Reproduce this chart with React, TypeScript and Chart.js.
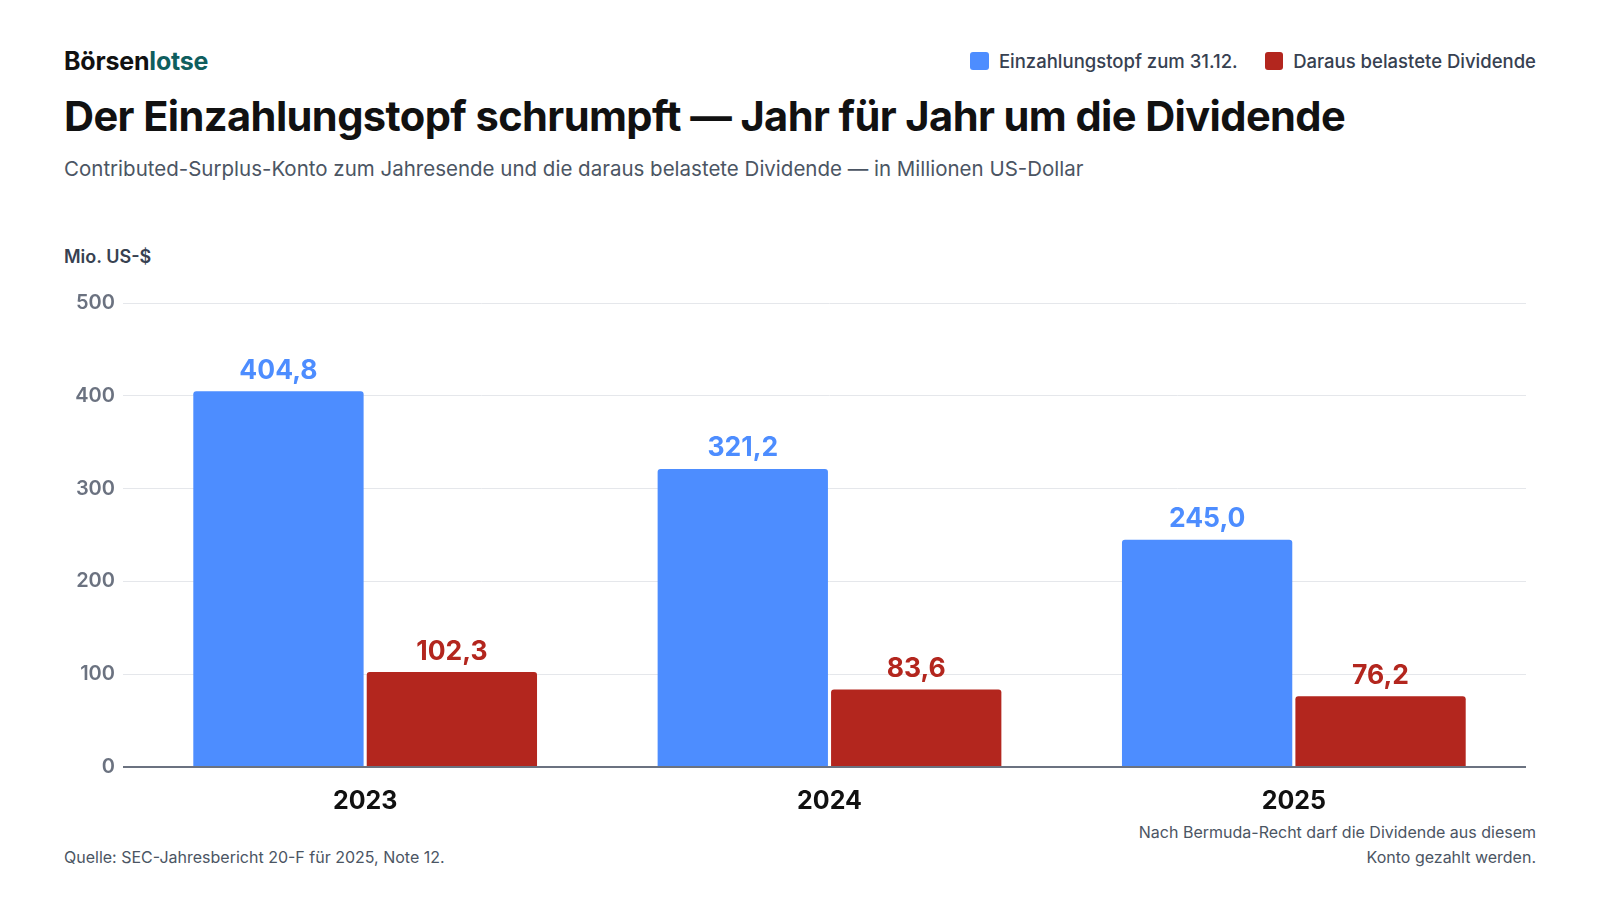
import { useEffect, useRef } from 'react'
import { Chart, registerables } from 'chart.js'

Chart.register(...registerables)

const years = ['2023', '2024', '2025']
const potValues = [404.8, 321.2, 245.0]
const dividendValues = [102.3, 83.6, 76.2]
const seriesNames = ['Einzahlungstopf zum 31.12.', 'Daraus belastete Dividende']

const BLUE = '#4d8dff'
const RED = '#b3261e'
const FONT = 'Inter, "Noto Sans", sans-serif'

const fmt = (v: number) => v.toFixed(1).replace('.', ',')

const valueLabels = {
  id: 'valueLabels',
  afterDatasetsDraw(chart: Chart) {
    const { ctx } = chart
    ctx.save()
    ctx.font = `700 26.5px ${FONT}`
    ctx.textAlign = 'center'
    ctx.textBaseline = 'alphabetic'
    chart.data.datasets.forEach((ds, i) => {
      const meta = chart.getDatasetMeta(i)
      meta.data.forEach((bar, j) => {
        ctx.fillStyle = ds.backgroundColor as string
        ctx.fillText(fmt(ds.data[j] as number), bar.x, bar.y - 12.5)
      })
    })
    ctx.restore()
  },
}

export default function App() {
  const chartRef = useRef<HTMLCanvasElement>(null)

  useEffect(() => {
    if (!chartRef.current) return
    const chart = new Chart(chartRef.current, {
      type: 'bar',
      data: {
        labels: years,
        datasets: [
          { label: seriesNames[0], data: potValues, backgroundColor: BLUE },
          { label: seriesNames[1], data: dividendValues, backgroundColor: RED },
        ],
      },
      options: {
        responsive: false,
        animation: false,
        layout: { padding: { top: 23, right: 10, left: 0, bottom: 0 } },
        datasets: {
          bar: {
            categoryPercentage: 0.747,
            barPercentage: 0.982,
            borderRadius: 3,
          },
        },
        plugins: {
          legend: { display: false },
          tooltip: { enabled: false },
        },
        scales: {
          x: {
            grid: { display: false },
            border: { display: false },
            ticks: {
              color: '#111111',
              font: { family: FONT, size: 25, weight: 700 },
              padding: 11,
            },
            afterFit: (s: any) => { s.height = 49 },
          },
          y: {
            min: 0,
            max: 500,
            ticks: {
              stepSize: 100,
              color: '#6b7280',
              font: { family: FONT, size: 20, weight: 600 },
              padding: 8,
            },
            grid: {
              drawTicks: true,
              tickLength: 10,
              color: (c: any) => (c.tick && c.tick.value === 0 ? '#6b7280' : '#e5e7eb'),
              lineWidth: (c: any) => (c.tick && c.tick.value === 0 ? 2 : 1),
            },
            border: { display: false },
            afterFit: (s: any) => { s.width = 69 },
          },
        },
      },
      plugins: [valueLabels],
    })
    return () => chart.destroy()
  }, [])

  const legendItem = (color: string, text: string) => (
    <div style={{ display: 'flex', alignItems: 'center', marginLeft: 27 }}>
      <span style={{ width: 18.5, height: 18.5, borderRadius: 3, background: color, display: 'inline-block', marginRight: 10 }} />
      <span style={{ fontSize: 18.5, color: '#374151', fontWeight: 500 }}>{text}</span>
    </div>
  )

  return (
    <div style={{ position: 'absolute', left: 0, top: 0, width: 1600, height: 900, background: '#ffffff', fontFamily: FONT, overflow: 'hidden' }}>
      <div style={{ position: 'absolute', left: 64, top: 46, fontSize: 25, fontWeight: 700, letterSpacing: -0.2, color: '#111111' }}>
        Börsen<span style={{ color: '#0f5e5e' }}>lotse</span>
      </div>
      <div style={{ position: 'absolute', right: 64, top: 50, display: 'flex' }}>
        {legendItem(BLUE, seriesNames[0])}
        {legendItem(RED, seriesNames[1])}
      </div>
      <div style={{ position: 'absolute', left: 64, top: 91, fontSize: 41.6, fontWeight: 700, letterSpacing: -0.6, color: '#111111', whiteSpace: 'nowrap' }}>
        Der Einzahlungstopf schrumpft — Jahr für Jahr um die Dividende
      </div>
      <div style={{ position: 'absolute', left: 64, top: 156, fontSize: 20.5, color: '#4b5563', whiteSpace: 'nowrap' }}>
        Contributed-Surplus-Konto zum Jahresende und die daraus belastete Dividende — in Millionen US-Dollar
      </div>
      <div style={{ position: 'absolute', left: 64, top: 246, fontSize: 18, fontWeight: 600, color: '#374151' }}>
        Mio. US-$
      </div>
      <canvas ref={chartRef} width={1472} height={536} style={{ position: 'absolute', left: 64, top: 280, width: 1472, height: 536 }} />
      <div style={{ position: 'absolute', left: 64, top: 847, fontSize: 16, color: '#4b5563' }}>
        Quelle: SEC-Jahresbericht 20-F für 2025, Note 12.
      </div>
      <div style={{ position: 'absolute', right: 64, top: 820, fontSize: 16, color: '#4b5563', textAlign: 'right', lineHeight: '24.5px' }}>
        Nach Bermuda-Recht darf die Dividende aus diesem
        <br />
        Konto gezahlt werden.
      </div>
    </div>
  )
}
